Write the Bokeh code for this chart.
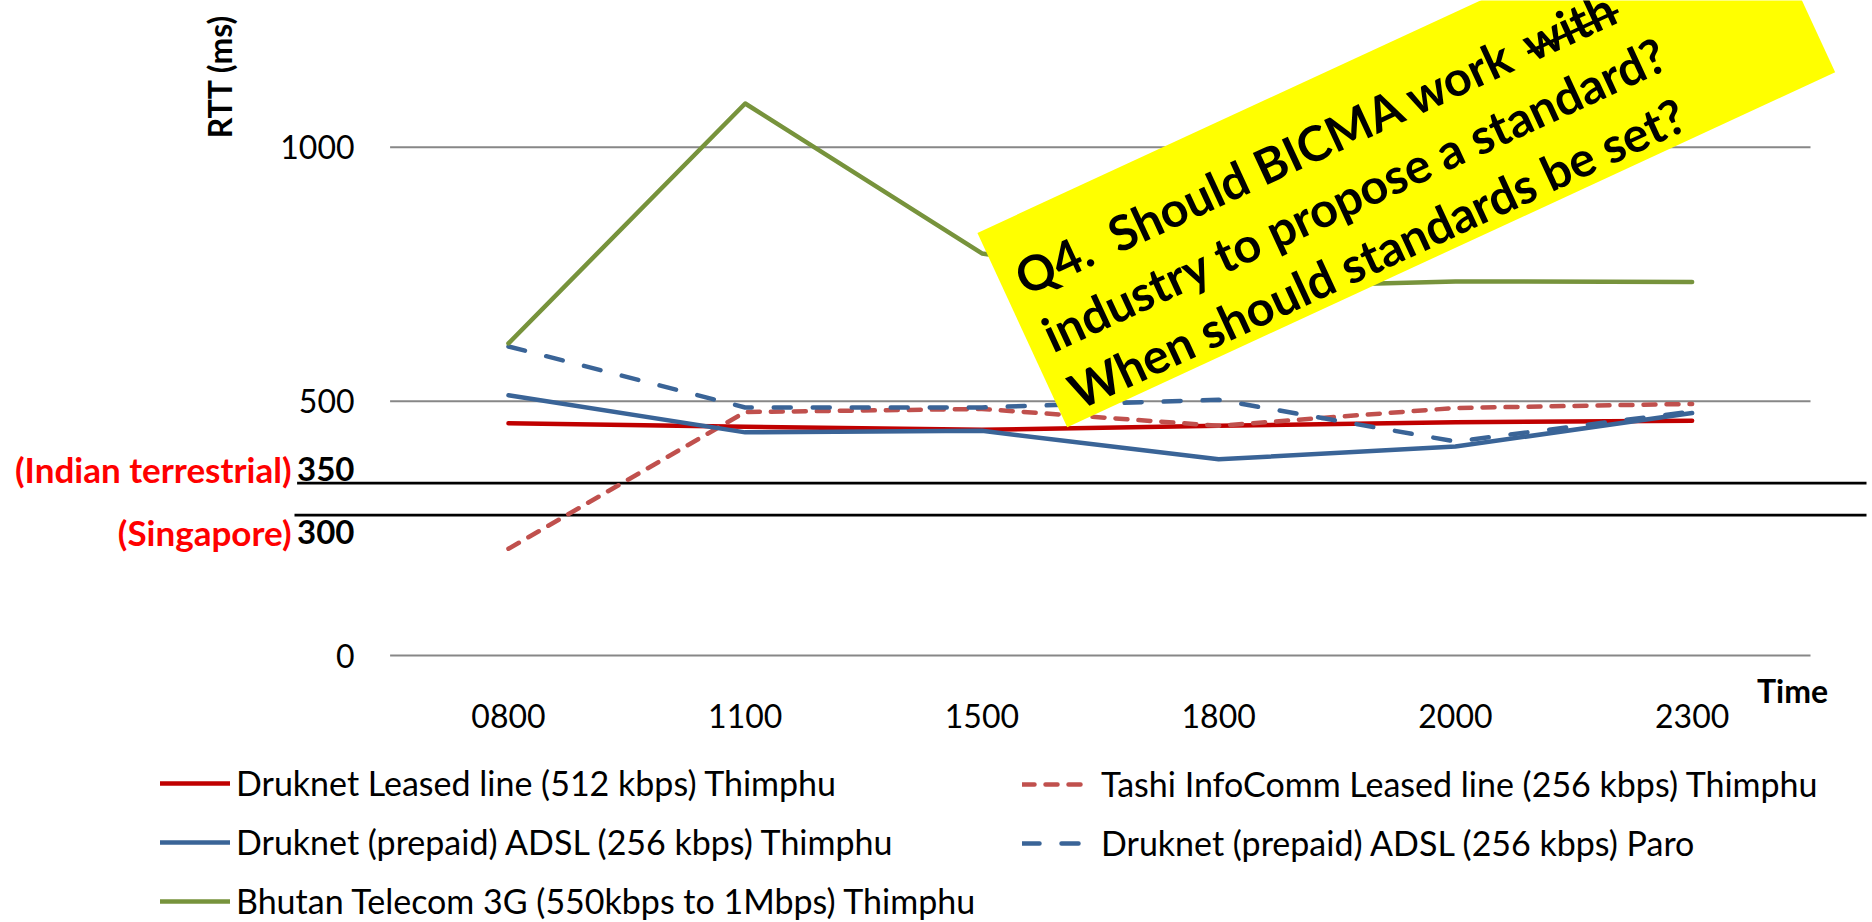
import math
from bokeh.plotting import figure
from bokeh.models import Label, PolyAnnotation, Arrow, Legend, LegendItem, Range1d
from bokeh.core.properties import value
from bokeh.embed import file_html
from bokeh.resources import INLINE

# ---------------- data ----------------
times = ["0800", "1100", "1500", "1800", "2000", "2300"]
series_names = [
    "Druknet Leased line (512 kbps) Thimphu",
    "Tashi InfoComm Leased line (256 kbps) Thimphu",
    "Druknet (prepaid) ADSL (256 kbps) Thimphu",
    "Druknet (prepaid) ADSL (256 kbps) Paro",
    "Bhutan Telecom 3G (550kbps to 1Mbps) Thimphu",
]
druknet_leased = [457, 450, 444, 452, 459, 462]
tashi_leased = [210, 479, 485, 452, 487, 495]
druknet_adsl_thimphu = [512, 439, 442, 386, 411, 477]
druknet_adsl_paro = [608, 488, 488, 503, 421, 480]
bt_3g = [614, 1086, 791, 724, 736, 735]
y_ticks = [0, 500, 1000]
y_tick_labels = ["0", "500", "1000"]
ref_names = ["(Indian terrestrial)", "(Singapore)"]
ref_values = ["350", "300"]
ref_line_ms = [339, 276]  # where the two hand-drawn black lines sit in the picture
box_lines = ["Q4.\u00a0 Should BICMA work", "with", "industry to propose a standard?",
             "When should standards be set?"]

# ---------------- layout (pixels of the photographed page) ----------------
W, H = 1872, 922
PLOT_L, PLOT_R = 389.6, 1810.0
ZERO_Y = 655.0
PPM = 0.5083  # pixels per ms
CAT_W = (PLOT_R - PLOT_L) / len(times)


def fx(px):
    return (px - PLOT_L) / CAT_W


def fy(py):
    return (ZERO_Y - py) / PPM


FONT = "Lato"

p = figure(width=W, height=H, output_backend="svg", toolbar_location=None,
           x_range=Range1d(fx(0), fx(W)), y_range=Range1d(fy(H), fy(0)),
           x_axis_location=None, y_axis_location=None, min_border=0,
           outline_line_color=None, background_fill_color="white")
p.grid.visible = False

xs = [i + 0.5 for i in range(len(times))]

# gridlines
p.segment(x0=[0] * len(y_ticks), x1=[len(times)] * len(y_ticks), y0=y_ticks, y1=y_ticks,
          line_color="#878787", line_width=2)

# hand-drawn reference lines
p.segment(x0=[fx(296.6), fx(294)], x1=[fx(1866)] * 2, y0=ref_line_ms, y1=ref_line_ms,
          line_color="black", line_width=2.8)

styles = [
    ("#C00000", "solid"),
    ("#C0504D", "12 11"),
    ("#3A6497", "solid"),
    ("#3A6497", "17 22"),
    ("#77933C", "solid"),
]
values_list = [druknet_leased, tashi_leased, druknet_adsl_thimphu, druknet_adsl_paro, bt_3g]
renderers = []
for vals, (col, dash) in zip(values_list, styles):
    r = p.line(x=xs, y=vals, line_color=col, line_width=4.5, line_dash=dash,
               line_cap="round", line_join="round")
    renderers.append(r)

# tick labels
p.text(x=[fx(354)] * len(y_ticks), y=y_ticks, text=y_tick_labels, text_align="right",
       text_baseline="middle", text_font=value(FONT), text_font_size="32px", text_color="black")
p.text(x=xs, y=[fy(715)] * len(times), text=times, text_align="center", text_baseline="middle",
       text_font=value(FONT), text_font_size="32px", text_color="black")

# reference line labels
p.text(x=[fx(354)] * 2, y=[fy(468.5), fy(531.5)], text=ref_values, text_align="right",
       text_baseline="middle", text_font=value(FONT), text_font_size="33px",
       text_font_style="bold", text_color="black")
p.text(x=[fx(291)] * 2, y=[fy(468.5), fy(531.5)], text=ref_names, text_align="right",
       text_baseline="middle", text_font=value(FONT), text_font_size="35px",
       text_font_style="bold", text_color="#FF0000")

# axis titles
p.add_layout(Label(x=fx(1792), y=fy(690), text="Time", text_align="center",
                   text_baseline="middle", text_font=FONT, text_font_size="32px",
                   text_font_style="bold", text_color="black"))
p.add_layout(Label(x=fx(219), y=fy(76), text="RTT (ms)", angle=math.pi / 2,
                   text_align="center", text_baseline="middle", text_font=FONT,
                   text_font_size="32px", text_font_style="bold", text_color="black"))


# legends (two columns)
def make_legend(idx, left, standoff, gw):
    n = len(idx)
    top = 765
    height = n * 40 + (n - 1) * 18
    leg = Legend(items=[LegendItem(label=series_names[i], renderers=[renderers[i]]) for i in idx],
                 location=(left, H - top - height), orientation="vertical",
                 glyph_width=gw, glyph_height=40, label_height=40, spacing=18,
                 padding=0, margin=0, label_standoff=standoff,
                 border_line_color=None, background_fill_alpha=0,
                 label_text_font=FONT, label_text_font_size="34px",
                 label_text_color="black")
    p.add_layout(leg)


make_legend([0, 2, 4], 160, 6, 70)
make_legend([1, 3], 1022, 15, 64)

# rotated yellow call-out box
theta = math.radians(24.8)
u = (math.cos(theta), -math.sin(theta))
n = (-math.sin(theta), -math.cos(theta))
BL = (1066.7, 426.7)
L_BOX, H_BOX = 846.0, 214.0


def pt(a, b):
    return (BL[0] + a * u[0] + b * n[0], BL[1] + a * u[1] + b * n[1])


corners = [pt(0, 0), pt(L_BOX, 0), pt(L_BOX, H_BOX), pt(0, H_BOX)]
p.add_layout(PolyAnnotation(xs=[fx(c[0]) for c in corners], ys=[fy(c[1]) for c in corners],
                            fill_color="#FFFF00", fill_alpha=1.0, line_color=None))

placements = [(17, 155), (575, 155), (18, 92), (18, 29)]
for txt, (a, b) in zip(box_lines, placements):
    q = pt(a, b)
    p.add_layout(Label(x=fx(q[0]), y=fy(q[1]), text=txt, angle=theta, text_align="left",
                       text_baseline="alphabetic", text_font=FONT, text_font_size="48.5px",
                       text_font_style="bold", text_color="black"))
s0, s1 = pt(575, 147), pt(675, 147)
p.add_layout(Arrow(x_start=fx(s0[0]), y_start=fy(s0[1]), x_end=fx(s1[0]), y_end=fy(s1[1]),
                   start=None, end=None, line_color="black", line_width=3.5))

open("out.html", "w").write(file_html(p, INLINE))
